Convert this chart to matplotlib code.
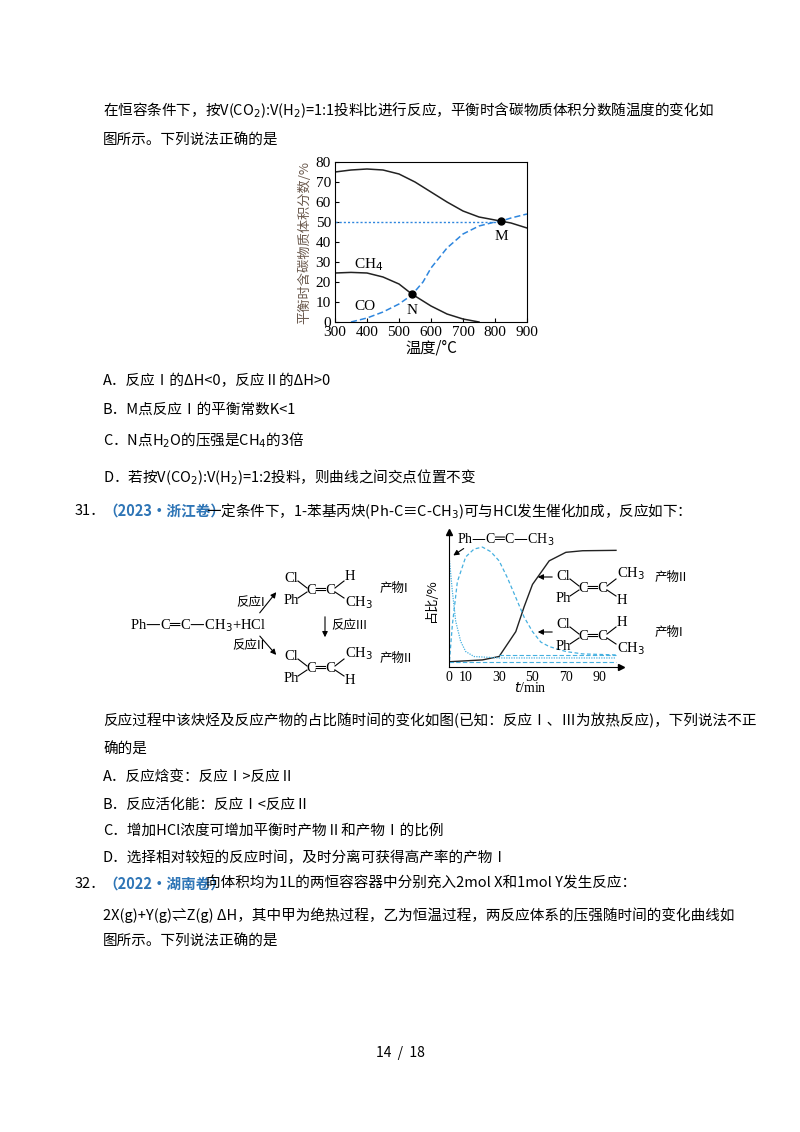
import matplotlib
matplotlib.use("Agg")
import matplotlib.pyplot as plt
from matplotlib.lines import Line2D
import numpy as np

plt.rcParams['font.family'] = ['Noto Sans CJK SC', 'DejaVu Sans']

# ---- chart 1 data ----
T_co2 = [300, 350, 400, 450, 500, 550, 600, 650, 700, 750, 800, 850, 900]
co2 = [75, 76, 76.5, 76, 74, 70, 65, 60, 55.5, 52.5, 51, 49.5, 47]
T_ch4 = [300, 350, 400, 450, 500, 540, 600, 650, 700, 750]
ch4 = [24.5, 24.8, 24.5, 22.5, 19, 14, 8, 4, 1.5, 0]
T_co = [350, 400, 450, 500, 540, 575, 600, 650, 700, 750, 800, 820, 850, 900]
co = [0, 2, 5, 9, 13.5, 20, 27, 37, 44, 48, 50, 50.5, 52, 54]
xt1 = [300, 400, 500, 600, 700, 800, 900]
yt1 = [0, 10, 20, 30, 40, 50, 60, 70, 80]

# ---- chart 2 data ----
t_b = [0, 20, 30, 40, 45, 50, 55, 60, 70, 80, 100]
prod2 = [4, 5.4, 8, 27, 46, 63, 72, 81, 87.5, 88.7, 89]
t_p1 = [0, 2, 5, 10, 15, 20, 25, 30, 35, 40, 45, 50, 55, 60, 70, 80, 100]
prod1 = [0, 32, 65, 84, 90, 91.5, 88, 81, 68, 53, 38, 27, 19, 15.6, 11.8, 10, 9.2]
t_r = [0, 2, 4, 7, 10, 15, 30, 100]
react = [85, 58, 35, 19.5, 11.8, 8, 6.9, 6.9]
xt2 = [0, 10, 30, 50, 70, 90]

fig = plt.figure(figsize=(8, 11.32), dpi=100)
SER = 'Liberation Serif'

def P(x, y):
    return x / 800, 1 - y / 1132

def T(x, y, s, fs=10.5, color='black', ha='left', va='center', **kw):
    fx, fy = P(x, y)
    fig.text(fx, fy, s, fontsize=fs, color=color, ha=ha, va=va, **kw)

def L(x0, y0, x1, y1, lw=0.8):
    a, b = P(x0, y0); c, d = P(x1, y1)
    fig.add_artist(Line2D([a, c], [b, d], lw=lw, color='black', transform=fig.transFigure))

def A(x0, y0, x1, y1):
    fig.add_artist(matplotlib.patches.FancyArrowPatch(P(x0, y0), P(x1, y1), transform=fig.transFigure,
                   arrowstyle='-|>', mutation_scale=8, lw=0.8, color='black'))

def alkene(x, y, tl, bl, tr, br, dx=0):
    # x,y = position of "C=C" left
    T(x - 22, y - 12, tl, fs=10.5, family=SER)
    T(x - 22, y + 11, bl, fs=10.5, family=SER)
    T(x, y, 'C═C', fs=10.5, family=SER)
    L(x - 8, y - 9, x + 1, y - 2); L(x - 8, y + 8, x + 1, y + 2)
    L(x + 29, y - 2, x + 38, y - 9); L(x + 29, y + 2, x + 38, y + 8)
    T(x + 39, y - 14, tr, fs=10.5, family=SER)
    T(x + 39, y + 13, br, fs=10.5, family=SER)

# ---- chart 1 ----
ax = fig.add_axes([335/800, 1-322/1132, 192/800, 160/1132])
ax.plot(T_co2, co2, color='#222222', lw=1.1)
ax.plot(T_ch4, ch4, color='#222222', lw=1.1)
ax.plot(T_co, co, color='#2e86de', lw=1.1, ls=(0, (4, 2)))
ax.plot([300, 820], [50, 50], color='#2e86de', lw=1.0, ls=(0, (1.5, 1.5)))
ax.plot([820, 540], [50.5, 13.8], 'o', color='black', ms=5)
ax.set_xlim(300, 900); ax.set_ylim(0, 80)
ax.set_xticks(xt1); ax.set_yticks(yt1)
ax.tick_params(direction='in', length=3, labelsize=11, pad=3)
for lab in ax.get_xticklabels() + ax.get_yticklabels():
    lab.set_family(SER)
ax.text(360, 27, 'CH$_4$', fontsize=11, family=SER)
ax.text(360, 6, 'CO', fontsize=11, family=SER)
ax.text(540, 9, 'N', fontsize=11, family=SER, ha='center', va='top')
ax.text(820, 46, 'M', fontsize=11, family=SER, ha='center', va='top')
ax.set_ylabel('平衡时含碳物质体积分数/%', fontsize=9.5, color='#6b5a4e', labelpad=3)
ax.set_xlabel('温度/°C', fontsize=11, labelpad=0)

# ---- chart 2 ----
ax2 = fig.add_axes([449/800, 1-667/1132, 172/800, 135/1132])
ax2.plot(t_b, prod2, color='#222222', lw=1.0)
ax2.plot(t_p1, prod1, color='#45b0e0', lw=0.9, ls=(0, (3, 2)))
ax2.plot(t_r, react, color='#45b0e0', lw=0.9, ls=(0, (1, 1)))
ax2.plot([30, 100], [9.2, 9.2], color='#45b0e0', lw=0.8, ls=(0, (4, 2)))
ax2.plot([0, 100], [4, 4], color='#45b0e0', lw=0.8, ls=(0, (4, 2)))
ax2.set_xlim(0, 103); ax2.set_ylim(0, 103)
for s in ['top', 'right']:
    ax2.spines[s].set_visible(False)
ax2.set_xticks(xt2); ax2.set_yticks([])
ax2.tick_params(labelsize=10, length=0, pad=3)
for lab in ax2.get_xticklabels():
    lab.set_family(SER)
ax2.plot(1, 0, '>k', transform=ax2.transAxes, clip_on=False, ms=4)
ax2.plot(0, 1, '^k', transform=ax2.transAxes, clip_on=False, ms=4)
T(431, 600, '占比/%', fs=9.5, rotation=90, ha='center')
T(530, 688, '$t$/min', fs=10, ha='center', family=SER)
T(457, 540, 'Ph—C═C—CH$_3$', fs=10, family=SER)
A(466, 547, 451, 557)
A(555, 577, 535, 577)
alkene(578, 588, 'Cl', 'Ph', 'CH$_3$', 'H')
T(655, 577, '产物II', fs=9)
A(555, 632, 535, 632)
alkene(578, 636, 'Cl', 'Ph', 'H', 'CH$_3$')
T(655, 632, '产物I', fs=9)

# ---- reaction scheme ----
T(130, 626, 'Ph—C═C—CH$_3$+HCl', fs=10.5, family=SER)
A(258, 615, 278, 590); A(258, 634, 278, 657)
T(236, 603, '反应I', fs=9); T(232, 646, '反应II', fs=9)
alkene(306, 590, 'Cl', 'Ph', 'H', 'CH$_3$')
T(380, 588, '产物I', fs=9)
A(325, 614, 325, 640); T(331, 626, '反应III', fs=9)
alkene(306, 668, 'Cl', 'Ph', 'CH$_3$', 'H')
T(380, 658, '产物II', fs=9)

# ---- body text ----
T(103, 110, '在恒容条件下，按V(CO$_2$):V(H$_2$)=1:1投料比进行反应，平衡时含碳物质体积分数随温度的变化如')
T(103, 141, '图所示。下列说法正确的是')
T(103, 381, 'A．反应Ⅰ的ΔH<0，反应Ⅱ的ΔH>0')
T(103, 410, 'B．M点反应Ⅰ的平衡常数K<1')
T(103, 440, 'C．N点H$_2$O的压强是CH$_4$的3倍')
T(103, 477, 'D．若按V(CO$_2$):V(H$_2$)=1:2投料，则曲线之间交点位置不变')
T(75, 511, '31．')
T(103, 511, '（2023·浙江卷）', color='#2e75b6', fontweight='bold')
T(206, 511, '一定条件下，1-苯基丙炔(Ph-C≡C-CH$_3$)可与HCl发生催化加成，反应如下：')
T(103, 720, '反应过程中该炔烃及反应产物的占比随时间的变化如图(已知：反应Ⅰ、Ⅲ为放热反应)，下列说法不正')
T(103, 750, '确的是')
T(103, 777, 'A．反应焓变：反应Ⅰ>反应Ⅱ')
T(103, 805, 'B．反应活化能：反应Ⅰ<反应Ⅱ')
T(103, 831, 'C．增加HCl浓度可增加平衡时产物Ⅱ和产物Ⅰ的比例')
T(103, 858, 'D．选择相对较短的反应时间，及时分离可获得高产率的产物Ⅰ')
T(75, 884, '32．')
T(103, 884, '（2022·湖南卷）', color='#2e75b6', fontweight='bold')
T(206, 884, '向体积均为1L的两恒容容器中分别充入2mol X和1mol Y发生反应：')
T(103, 915, '2X(g)+Y(g)⇌Z(g) ΔH，其中甲为绝热过程，乙为恒温过程，两反应体系的压强随时间的变化曲线如')
T(103, 942, '图所示。下列说法正确的是')
T(400, 1053, '14  /  18', fs=10, ha='center')

fig.savefig('out.png', dpi=100)
